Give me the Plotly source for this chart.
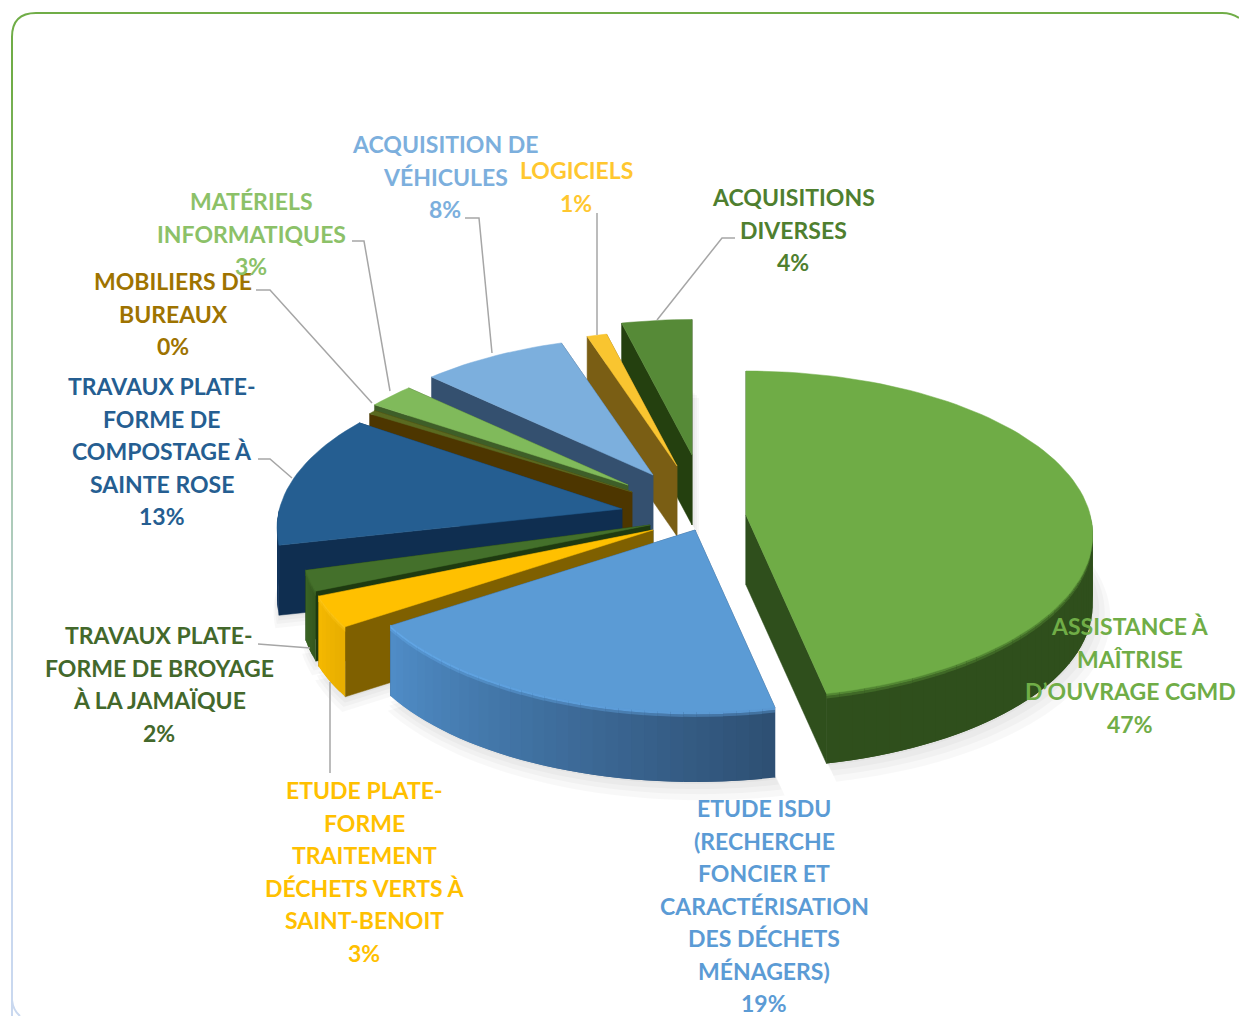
import math
import plotly.graph_objects as go

# ---- data (clockwise from 12 o'clock) ----
categories = ["ASSISTANCE À MAÎTRISE D'OUVRAGE CGMD", "ETUDE ISDU", "ETUDE PLATE-FORME",
              "TRAVAUX BROYAGE", "TRAVAUX COMPOSTAGE", "MOBILIERS DE BUREAUX",
              "MATÉRIELS INFORMATIQUES", "ACQUISITION DE VÉHICULES", "LOGICIELS", "ACQUISITIONS DIVERSES"]
values = [46.7, 18.9, 3.05, 2.0, 13.4, 0.42, 2.6, 7.95, 1.1, 3.9]
label_lines = [
    ["ASSISTANCE À", "MAÎTRISE", "D’OUVRAGE CGMD", "47%"],
    ["ETUDE ISDU", "(RECHERCHE", "FONCIER ET", "CARACTÉRISATION", "DES DÉCHETS", "MÉNAGERS)", "19%"],
    ["ETUDE PLATE-", "FORME", "TRAITEMENT", "DÉCHETS VERTS À", "SAINT-BENOIT", "3%"],
    ["TRAVAUX PLATE-", "FORME DE BROYAGE", "À LA JAMAÏQUE", "2%"],
    ["TRAVAUX PLATE-", "FORME DE", "COMPOSTAGE À", "SAINTE ROSE", "13%"],
    ["MOBILIERS DE", "BUREAUX", "0%"],
    ["MATÉRIELS", "INFORMATIQUES", "3%"],
    ["ACQUISITION DE", "VÉHICULES", "8%"],
    ["LOGICIELS", "1%"],
    ["ACQUISITIONS", "DIVERSES", "4%"],
]

# ---- layout / style ----
label_x = [1130, 764, 364, 159, 162, 173, 251, 445, 576, 793]
label_y0 = [626, 808, 790, 635, 386, 281, 201, 144, 170, 197]
LINE_PITCH = 32.5
label_color = ["#70AD47", "#5B9BD5", "#FFC000", "#43682B", "#255E91", "#9E7300",
               "#8CC168", "#7CAFDD", "#FFC72F", "#4F7F2F"]
apex = [(746, 515), (695, 530), (653, 530), (650, 525), (622, 509),
        (632, 492), (628, 485), (653, 475), (677, 466), (692, 455)]
radius = [0.995, 0.99, 1.0, 1.0, 0.99, 0.955, 0.94, 0.95, 0.93, 0.93]
start_nudge = [0, 0, 0, 0, 3.0, 0, 0, 0, 0, 0]
end_nudge = [0, 0, 0, 0, 2.5, 0, 0, 0, 0, 0]
top_color = ["#6FAC46", "#5B9BD5", "#FFC000", "#44702B", "#255E91",
             "#5A6A20", "#80BA5B", "#7CAFDD", "#F9C530", "#568A37"]
radial_color = ["#2F4F1C", "#2E5074", "#7F6000", "#1E3A10", "#0F2E50",
                "#4D3600", "#3E5E28", "#34506F", "#7A5E14", "#24400F"]
outer_left = ["#2F4F1C", "#4F8CC6", "#F4B800", "#3A6324", "#12355C",
              "#4D3600", "#4F7A35", "#3E6A98", "#A8851E", "#3A5F22"]
outer_right = ["#2F4F1C", "#2E5074", "#E8AE00", "#35591F", "#10315A",
               "#4D3600", "#4F7A35", "#3E6A98", "#A8851E", "#3A5F22"]
rim_color = ["#5F9A3B", "#68AFF0", "#FFC81A", "#44702B", "#24568A",
             "#4D3600", "#6A9C49", "#5A8ABB", "#C9A025", "#3A5F22"]
draw_order = [9, 8, 7, 6, 5, 4, 3, 2, 1, 0]
leaders = [
    [(735, 238), (722, 238), (657, 320)],
    [(597, 213), (597, 335)],
    [(465, 218), (479, 218), (492, 353)],
    [(352, 241), (364, 241), (390, 391)],
    [(256, 290), (270, 290), (372, 403)],
    [(258, 459), (270, 459), (292, 478)],
    [(258, 644), (310, 648)],
    [(330, 682), (330, 773)],
]
RX, RY, PERSP, DEPTH = 346.0, 162.0, 0.12, 70.0
FONT = "Lato"
FONT_SIZE = 23


def project(ax, ay, deg, r=1.0):
    t = math.radians(deg)
    x, y = r * math.sin(t), r * math.cos(t)
    s = 1.0 / (1.0 + PERSP * y)
    return ax + RX * x * s, ay - RY * y * s


def mix(c1, c2, f):
    a = [int(c1[i:i + 2], 16) for i in (1, 3, 5)]
    b = [int(c2[i:i + 2], 16) for i in (1, 3, 5)]
    return "#%02x%02x%02x" % tuple(round(p + (q - p) * f) for p, q in zip(a, b))


def poly(fig, pts, color, edge=0.0):
    fig.add_trace(go.Scatter(
        x=[p[0] for p in pts] + [pts[0][0]], y=[p[1] for p in pts] + [pts[0][1]],
        mode="lines", fill="toself", fillcolor=color,
        line=dict(color=color, width=edge),
        hoverinfo="skip", showlegend=False))


total = sum(values)
starts, ends, acc = [], [], 0.0
for i, v in enumerate(values):
    starts.append(360.0 * acc / total + start_nudge[i])
    acc += v
    ends.append(360.0 * acc / total + end_nudge[i])


def arc(i, grow=1.0, a0=None, a1=None, step=2.0):
    a0 = starts[i] if a0 is None else a0
    a1 = ends[i] if a1 is None else a1
    n = max(2, int((a1 - a0) / step) + 1)
    return [project(*apex[i], a0 + (a1 - a0) * k / n, radius[i] * grow) for k in range(n + 1)]


fig = go.Figure()

# soft drop shadow under the pie
for dy, dx, grow in [(DEPTH + 12, 7, 1.03), (DEPTH + 8, 5, 1.02), (DEPTH + 5, 3, 1.01), (DEPTH + 2, 1, 1.0)]:
    for i in draw_order:
        pts = [apex[i]] + arc(i, grow)
        fig.add_trace(go.Scatter(
            x=[p[0] + dx for p in pts] + [pts[0][0] + dx], y=[p[1] + dy for p in pts] + [pts[0][1] + dy],
            mode="none", fill="toself", fillcolor="rgba(0,0,0,0.028)",
            hoverinfo="skip", showlegend=False))

# slices, painted back to front
for i in draw_order:
    ax, ay = apex[i]
    for edge_deg in (ends[i], starts[i]):
        ex, ey = project(ax, ay, edge_deg, radius[i])
        poly(fig, [(ax, ay), (ex, ey), (ex, ey + DEPTH), (ax, ay + DEPTH)], radial_color[i], 0.5)
    # only the front half of the rim wall faces the viewer
    a0, a1 = max(starts[i], 90.0), min(ends[i], 270.0)
    if a1 > a0:
        pts = arc(i, a0=a0, a1=a1)
        n = len(pts) - 1
        for k in range(n):
            p1, p2 = pts[k], pts[min(n, k + 2)]
            c = mix(outer_right[i], outer_left[i], k / max(1, n - 1))
            poly(fig, [p1, p2, (p2[0], p2[1] + DEPTH), (p1[0], p1[1] + DEPTH)], c)
            poly(fig, [(p1[0], p1[1] + 2.5), (p2[0], p2[1] + 2.5), (p2[0], p2[1] + 5), (p1[0], p1[1] + 5)],
                 mix(rim_color[i], c, 0.65))
            poly(fig, [(p1[0], p1[1] - 1), (p2[0], p2[1] - 1), (p2[0], p2[1] + 2.5), (p1[0], p1[1] + 2.5)],
                 mix(rim_color[i], c, 0.25))
    poly(fig, [(ax, ay)] + arc(i), top_color[i], 0.5)

# labels, one annotation per printed line
annotations = []
for lines, x, y0, col in zip(label_lines, label_x, label_y0, label_color):
    for j, line in enumerate(lines):
        annotations.append(dict(
            x=x, y=y0 + j * LINE_PITCH, text="<b>%s</b>" % line, showarrow=False,
            xanchor="center", yanchor="middle", xref="x", yref="y",
            font=dict(family=FONT, size=FONT_SIZE, color=col)))

shapes = []
for pts in leaders:
    d = "M " + " L ".join("%g %g" % p for p in pts)
    shapes.append(dict(type="path", path=d, xref="x", yref="y", line=dict(color="#A6A6A6", width=1.5)))

# rounded card outline
shapes.append(dict(type="path", xref="x", yref="y", layer="below",
                   path="M 12 60 L 12 37 Q 12 13 36 13 L 1222 13 Q 1232 13 1239 18",
                   line=dict(color="#70AD47", width=2)))
for k in range(24):
    y1 = 60 + k * 40
    shapes.append(dict(type="line", xref="x", yref="y", layer="below", x0=12, x1=12, y0=y1, y1=y1 + 40,
                       line=dict(color=mix("#70AD47", "#C9D8EF", min(1.0, k / 16)), width=2)))
shapes.append(dict(type="path", xref="x", yref="y", layer="below",
                   path="M 12 1000 Q 13 1010 20 1016", line=dict(color="#C9D8EF", width=2)))

fig.update_layout(
    width=1239, height=1016, margin=dict(l=0, r=0, t=0, b=0),
    paper_bgcolor="white", plot_bgcolor="white", showlegend=False,
    xaxis=dict(range=[0, 1239], visible=False, fixedrange=True),
    yaxis=dict(range=[1016, 0], visible=False, fixedrange=True),
    annotations=annotations, shapes=shapes)

fig.write_html("out.html", config={"displayModeBar": False},
               post_script="document.body.style.margin='0';document.body.style.overflow='hidden';")
